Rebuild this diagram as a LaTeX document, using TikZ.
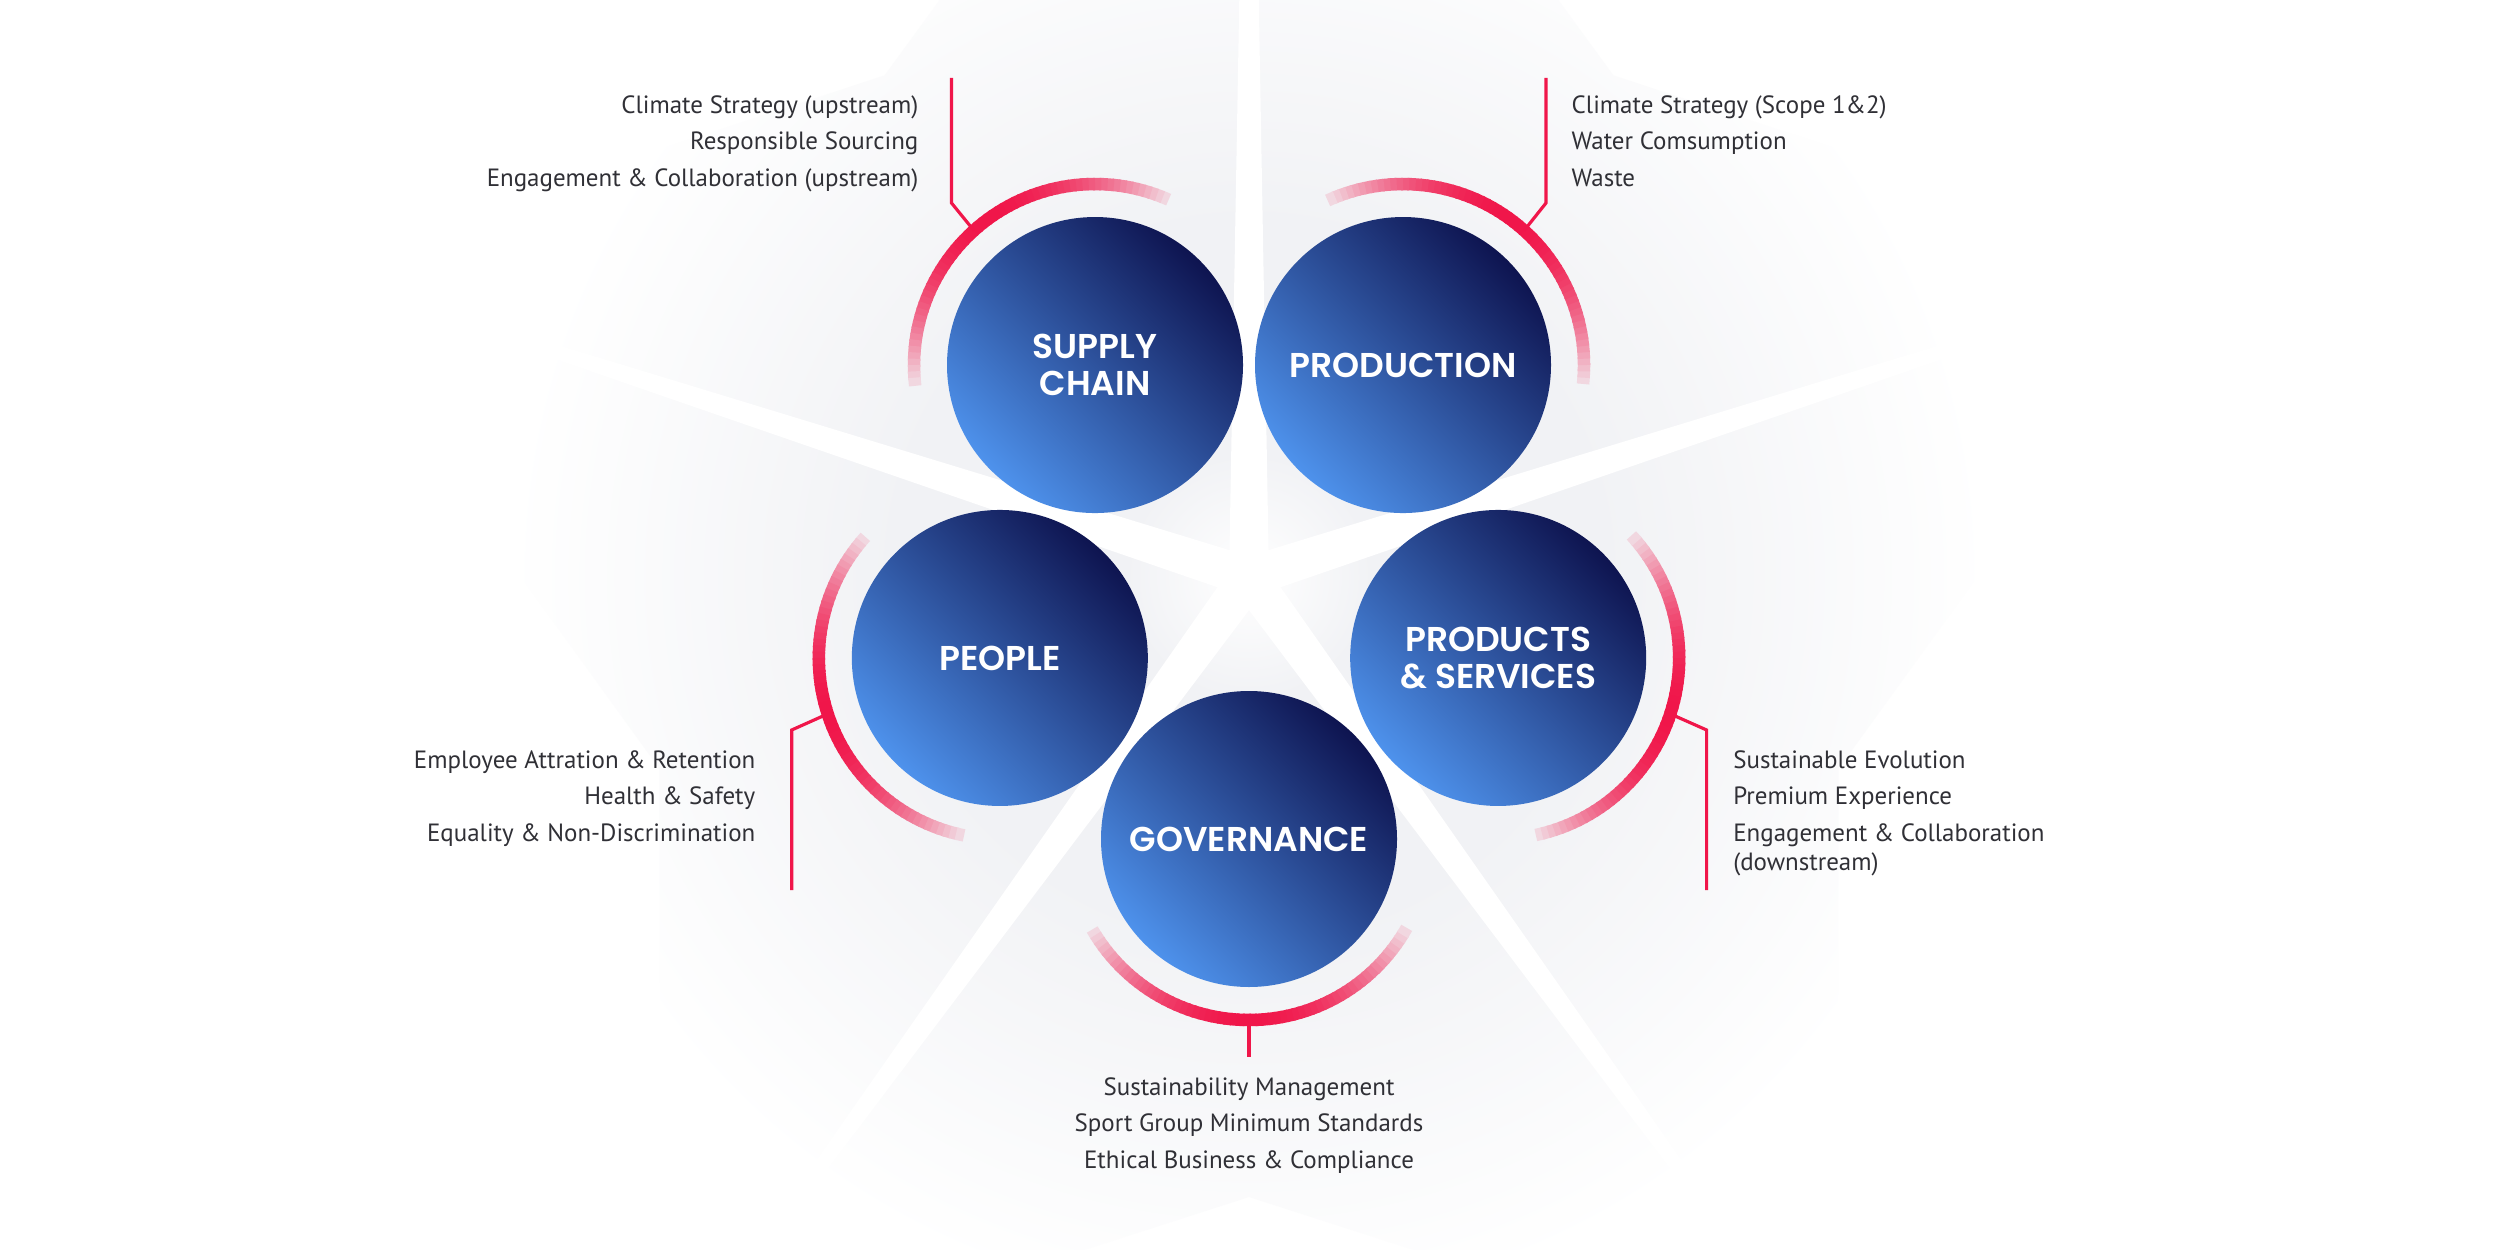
\documentclass[tikz,border=0pt]{standalone}
\usepackage{fontspec}
\setmainfont{PT Sans}
\newfontfamily\topicfont{Poppins SemiBold}
\usetikzlibrary{calc}
\definecolor{navy}{RGB}{14,20,80}
\definecolor{sky}{RGB}{78,146,236}
\definecolor{signal}{RGB}{240,22,74}
\definecolor{ink}{RGB}{48,48,54}
\definecolor{haze}{RGB}{241,242,245}
\pgfdeclareradialshading{hazefade}{\pgfpoint{0bp}{0bp}}{color(0bp)=(white); color(3.5bp)=(haze); color(10bp)=(haze); color(21bp)=(white); color(50bp)=(white)}
\tikzset{
  topic/.style={circle, minimum size=2.96cm, inner sep=0pt, top color=navy, bottom color=sky, shading angle=-45,
                text=white, align=center, font=\topicfont\fontsize{9.8}{10.7}\selectfont},
  item/.style={inner sep=0pt, text=ink, font=\fontsize{7.1}{8.5}\selectfont},
  leader/.style={draw=signal, line width=0.9pt},
  band/.style={line width=0.125cm},
}

\begin{document}
\begin{tikzpicture}
\useasboundingbox (0,0) rectangle (25,12.49);
\fill[white] (0,0) rectangle (25,12.49);
\begin{scope}[shift={(12.49,6.72)}]
  \clip (90:10) -- (54:6.2) -- (18:10) -- (-18:6.2) -- (-54:10) -- (-90:6.2) -- (-126:10) -- (-162:6.2) -- (162:10) -- (126:6.2) -- cycle;
  \shade[shading=hazefade] (0,0) circle (8.8);
  \foreach \ang in {90,18,-54,-126,162}
    \fill[white, rotate=\ang] (0,0.2) -- (9,0.04) -- (9,-0.04) -- (0,-0.2) -- cycle;
\end{scope}

\coordinate (hub) at (12.49,6.72);
\node[topic] (sc) at ($(hub)+(126:2.62)$) {SUPPLY\\CHAIN};
\node[topic] (pr) at ($(hub)+(54:2.62)$) {PRODUCTION};
\node[topic] (ps) at ($(hub)+(-18:2.62)$) {PRODUCTS\\\& SERVICES};
\node[topic] (gv) at ($(hub)+(-90:2.62)$) {GOVERNANCE};
\node[topic] (pe) at ($(hub)+(198:2.62)$) {PEOPLE};

\foreach \ang/\who in {126/sc,54/pr,-18/ps,-90/gv,198/pe}
  \foreach \off in {-60,-58,...,58}{
    \pgfmathsetmacro\mix{100*(1-((\off+1)/63)*((\off+1)/63))}
    \draw[band, draw=signal!\mix!haze] ($(\who)+(\ang+\off:1.81)$) arc[start angle=\ang+\off, delta angle=2.6, radius=1.81];
  }

\coordinate (sc-j) at ($(sc)+(132:1.81)$);
\coordinate (sc-k) at (9.515,10.46);
\coordinate (sc-t) at (9.515,11.71);
\coordinate (pr-j) at ($(pr)+(48:1.81)$);
\coordinate (pr-k) at (15.46,10.46);
\coordinate (pr-t) at (15.46,11.71);
\coordinate (ps-j) at ($(ps)+(-18:1.81)$);
\coordinate (ps-k) at (17.066,5.19);
\coordinate (ps-t) at (17.066,3.59);
\coordinate (pe-j) at ($(pe)+(198:1.81)$);
\coordinate (pe-k) at (7.917,5.19);
\coordinate (pe-t) at (7.917,3.59);
\coordinate (gv-j) at ($(gv)+(-90:1.81)$);
\coordinate (gv-t) at (12.49,1.92);
\draw[leader] (sc-j) -- (sc-k) -- (sc-t);
\draw[leader] (pr-j) -- (pr-k) -- (pr-t);
\draw[leader] (ps-j) -- (ps-k) -- (ps-t);
\draw[leader] (pe-j) -- (pe-k) -- (pe-t);
\draw[leader] (gv-j) -- (gv-t);

\foreach \txt [count=\i from 0] in {Climate Strategy (upstream), Responsible Sourcing, Engagement \& Collaboration (upstream)}
  \node[item, anchor=base east] (sc-\i) at (9.19,{11.357-0.367*\i}) {\txt};
\foreach \txt [count=\i from 0] in {Climate Strategy (Scope 1\&2), Water Comsumption, Waste}
  \node[item, anchor=base west] (pr-\i) at (15.71,{11.357-0.367*\i}) {\txt};
\foreach \txt [count=\i from 0] in {Employee Attration \& Retention, Health \& Safety, Equality \& Non-Discrimination}
  \node[item, anchor=base east] (pe-\i) at (7.56,{4.81-0.367*\i}) {\txt};
\foreach \txt [count=\i from 0] in {Sustainable Evolution, Premium Experience, Engagement \& Collaboration}
  \node[item, anchor=base west] (ps-\i) at (17.326,{4.81-0.367*\i}) {\txt};
\node[item, anchor=base west] (ps-3) at (17.326,3.79) {(downstream)};
\foreach \txt [count=\i from 0] in {Sustainability Management, Sport Group Minimum Standards, Ethical Business \& Compliance}
  \node[item, anchor=base] (gv-\i) at (12.49,{1.54-0.365*\i}) {\txt};
\end{tikzpicture}
\end{document}
